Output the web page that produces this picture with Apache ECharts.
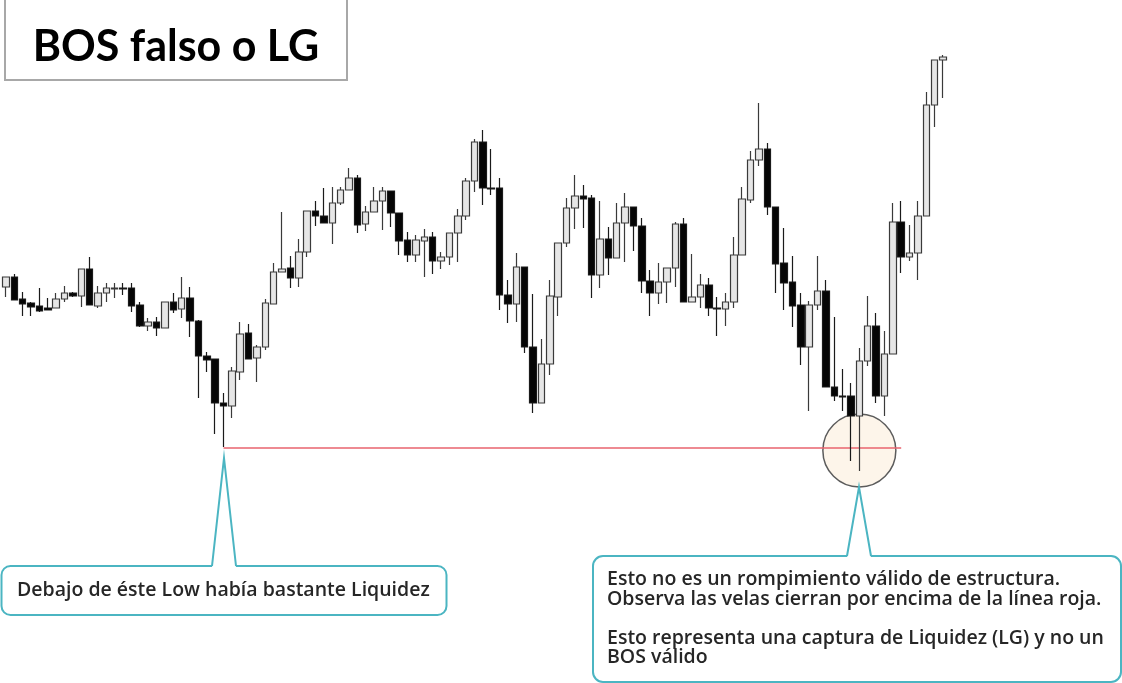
<!DOCTYPE html>
<html>
<head>
<meta charset="utf-8">
<script src="https://cdn.jsdelivr.net/npm/echarts/dist/echarts.min.js"></script>
<style>html,body{margin:0;background:#fff}#c{width:1122px;height:683px}</style>
</head>
<body>
<div id="c"></div>
<script>
/* BOS falso o LG: velas (precio en unidades arbitrarias) */
const opens = [193,203,181,177,174,172,172,181,187, 184,211,174,187,191,192,192,175,154,158,
  152,178,171,182,159,124,121,77,74,108, 147,122,133,176,208,212,202,228,269,264,
  257,277,290,302,256,268,279,289,267,240, 225,239,243,219,223,247,264,299,338,292,
  292,185,176,213,133,77,116,183,237,272, 284,282,205,241,222,257,273,254,199,187,
  198,212,256,178,183,195,172,171,178,225, 280,320,331,273,217,198,175,133,175,189,
  93,84,84,64,119,154,84,126,258,223, 227,264,375,420];
const closes = [203,180,176,173,169,170,181,187,184, 211,175,187,192,192,191,174,154,158,152,
  178,170,182,159,124,120,77,74,109,146, 121,133,177,208,211,202,228,269,264,257,
  277,290,302,255,268,279,289,267,239,225, 240,243,219,223,247,264,299,338,292,291,
  185,176,213,133,77,116,184,237,272,284, 281,205,241,222,257,273,254,199,187,198,
  212,256,178,183,195,172,171,178,225,281, 320,331,273,216,197,174,133,175,189,93,
  84,83,64,119,154,84,126,258,223,227, 264,375,420,423];
const lows = [183,180,164,164,168,170,172,178,183, 173,175,172,178,182,185,168,153,149,144,
  152,167,162,143,82,108,46,33,62,100, 121,98,130,176,208,192,193,223,254,257,
  236,275,290,247,249,268,250,253,225,218, 218,203,206,211,215,218,260,288,275,285,
  170,157,158,127,67,77,105,164,233,251, 252,182,192,205,222,218,229,187,164,176,
  177,193,178,178,172,164,144,154,172,225, 277,314,265,187,170,153,115,69,170,93,
  79,69,19,9,114,77,64,126,207,219, 200,264,353,382];
const highs = [203,206,188,178,192,182,187,194,188, 211,223,194,197,197,197,197,178,162,163,
  178,187,203,193,160,128,121,87,113,158, 156,135,181,217,268,224,241,269,279,292,
  293,293,312,305,274,293,293,289,267,248, 245,251,248,228,247,271,302,341,350,331,
  302,200,227,213,186,141,200,237,282,305, 295,285,279,253,277,287,273,262,210,217,
  212,258,262,226,206,202,183,187,243,293, 329,377,337,273,252,224,187,179,224,200,
  163,111,97,132,184,167,149,277,279,255, 279,388,420,425];

// línea roja: desde el Low (vela 26) hasta la vela 107
const lineaRoja = [[26, 32], [107, 32]];
// círculo de la captura de liquidez
const circulo = [[102, 29.5]];

const titulo = 'BOS falso o LG';
const nota1 = 'Debajo de éste Low había bastante Liquidez';
const nota2 = 'Esto no es un rompimiento válido de estructura.\nObserva las velas cierran por encima de la línea roja.\n\nEsto representa una captura de Liquidez (LG) y no un\nBOS válido';

const TEAL = '#4bb5c2';
const chart = echarts.init(document.getElementById('c'), null, { renderer: 'canvas' });
const velas = opens.map((o, i) => [o, closes[i], lows[i], highs[i]]);

const bocadillo = (x, y, w, h, r, px0, px1, tipX, tipY) => [
  { type: 'rect', shape: { x, y, width: w, height: h, r }, style: { fill: '#fff', stroke: TEAL, lineWidth: 2 }, z: 10 },
  { type: 'polygon', shape: { points: [[px0, y + 1.5], [tipX, tipY], [px1, y + 1.5]] }, style: { fill: '#fff' }, z: 11 },
  { type: 'polyline', shape: { points: [[px0, y], [tipX, tipY], [px1, y]] }, style: { stroke: TEAL, lineWidth: 2, fill: null }, z: 12 },
];

chart.setOption({
  animation: false,
  backgroundColor: '#fff',
  grid: { left: 1.8, right: 174.8, top: 0, bottom: 203 },
  xAxis: { type: 'category', data: opens.map((_, i) => i), show: false, boundaryGap: true },
  yAxis: { type: 'value', min: 0, max: 480, show: false },
  series: [
    { type: 'scatter', data: circulo, symbolSize: 73, silent: true, z: 1,
      itemStyle: { color: '#fdf5ea', borderColor: '#5c5c5c', borderWidth: 1.5, opacity: 1 } },
    { type: 'line', data: lineaRoja, symbol: 'none', silent: true, z: 2,
      lineStyle: { color: '#e9636e', width: 1.5 } },
    { type: 'candlestick', data: velas, barWidth: 7, silent: true, z: 3,
      itemStyle: { color: '#e6e6e6', color0: '#050505', borderColor: '#3a3a3a', borderColor0: '#1a1a1a', borderWidth: 1.2 } },
  ],
  graphic: [
    { type: 'rect', shape: { x: 5, y: -5, width: 342, height: 85 }, style: { fill: '#fff', stroke: '#a8a8a8', lineWidth: 2 }, z: 10 },
    { type: 'text', x: 176, y: 47, style: { text: titulo, font: 'bold 43px Lato', fill: '#000', align: 'center', verticalAlign: 'middle' }, z: 11 },
    ...bocadillo(1.5, 566, 445, 49, 9, 212, 236, 224, 458),
    { type: 'text', x: 17, y: 590, style: { text: nota1, font: '600 19.5px "Open Sans"', fill: '#262626', verticalAlign: 'middle' }, z: 13 },
    ...bocadillo(593, 556, 528, 126, 10, 847, 871, 859, 487),
    { type: 'text', x: 607, y: 570, style: { text: nota2, font: '600 19.5px "Open Sans"', fill: '#262626', verticalAlign: 'top', lineHeight: 19.5 }, z: 13 },
  ],
});
</script>
</body>
</html>
